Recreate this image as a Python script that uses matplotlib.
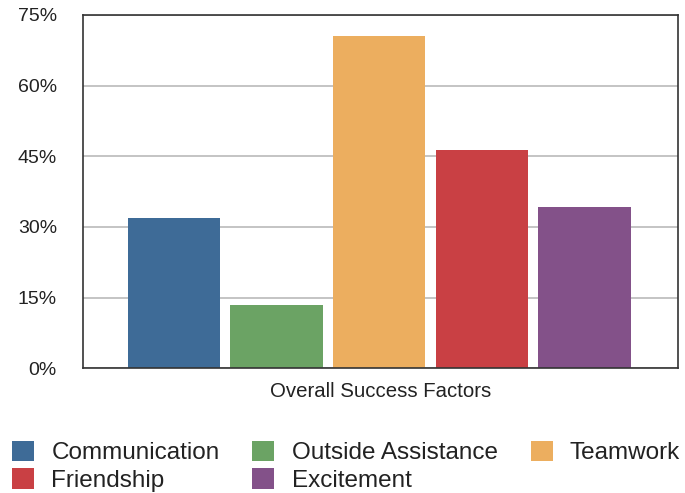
import matplotlib.pyplot as plt
from matplotlib.patches import Patch
from matplotlib.ticker import FuncFormatter

plt.rcParams['font.family'] = ['Liberation Sans', 'DejaVu Sans']

categories = ['Communication', 'Outside Assistance', 'Teamwork', 'Friendship', 'Excitement']
values = [32.0, 13.4, 70.5, 46.4, 34.3]
colors = ['#3e6b97', '#6ba364', '#ecae5f', '#c94044', '#835189']
yticks = [0, 15, 30, 45, 60, 75]

fig = plt.figure(figsize=(6.85, 4.93), dpi=100)
ax = fig.add_axes([0.1207, 0.2529, 0.8695, 0.7167])

xs = range(len(categories))
ax.bar(xs, values, width=0.9, color=colors, zorder=3)

ax.set_xlim(-0.89, 4.915)
ax.set_ylim(0, 75)
ax.set_yticks(yticks)
ax.yaxis.set_major_formatter(FuncFormatter(lambda v, p: '%d%%' % v))
ax.tick_params(axis='y', length=0, pad=18.5, labelsize=14, labelcolor='#222222')
ax.set_xticks([])
ax.grid(axis='y', color='#b4b4b4', linewidth=1.1, zorder=0)

for s in ax.spines.values():
    s.set_color('#333333')
    s.set_linewidth(1.2)
    s.set_zorder(4)

ax.set_xlabel('Overall Success Factors', fontsize=14.7, labelpad=10, color='#222222')

# legend fills column by column, so reorder to read row-wise
handles = [Patch(facecolor=c, edgecolor='none') for c in colors]
order = [0, 3, 1, 4, 2]
fig.legend([handles[i] for i in order], [categories[i] for i in order],
           loc='upper left', bbox_to_anchor=(12 / 685, 1 - 441 / 493),
           ncol=3, frameon=False, fontsize=17.5, handlelength=0.9, handleheight=0.9,
           handletextpad=0.72, columnspacing=1.35, labelspacing=0.16, borderpad=0,
           borderaxespad=0, labelcolor='#222222')

fig.savefig('out.png', dpi=100)
